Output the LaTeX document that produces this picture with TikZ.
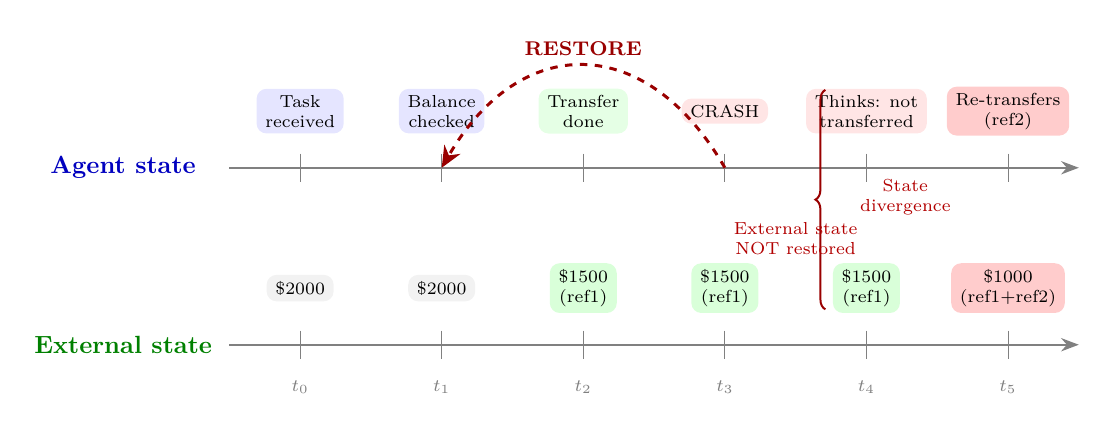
\documentclass[tikz,border=0pt]{standalone}
\usetikzlibrary{arrows.meta, positioning, calc, decorations.pathreplacing}

\begin{document}
\begin{tikzpicture}[
    every node/.style={font=\scriptsize},
    evbox/.style={rectangle, rounded corners=4pt, inner xsep=3.5pt, inner ysep=2.5pt, align=center},
    axis/.style={-{Stealth[length=2.5mm]}, thick, gray},
    tick/.style={gray, thin},
    rowlabel/.style={font=\normalsize\bfseries, anchor=center},
    tlabel/.style={font=\scriptsize, text=gray},
    note/.style={font=\scriptsize, text=red!70!black, align=center}
]
\useasboundingbox (-4.24,-3.67) rectangle (11.37,2.37);

% ============ AXES ============
\node[rowlabel, text=blue!75!black] (agentlbl) at (-2.5,0) {Agent state};
\node[rowlabel, text=green!50!black] (extlbl) at (-2.5,-2.5) {External state};
\coordinate (agentstart) at (-1,0);
\coordinate (agentend) at (11,0);
\coordinate (extstart) at (-1,-2.5);
\coordinate (extend) at (11,-2.5);
\draw[axis] (agentstart) -- (agentend);
\draw[axis] (extstart) -- (extend);

% ============ TICKS ============
\foreach \i in {0,...,5} {
    \coordinate (a\i) at (2*\i,0);
    \coordinate (e\i) at (2*\i,-2.5);
    \draw[tick] ($(a\i)+(0,0.2)$) -- ($(a\i)+(0,-0.2)$);
    \draw[tick] ($(e\i)+(0,0.2)$) -- ($(e\i)+(0,-0.2)$);
    \node[tlabel] (t\i) at (2*\i,-3.1) {$t_\i$};
}

% ============ AGENT EVENTS ============
\node[evbox, fill=blue!10] (task) at (0,0.8) {Task\\received};
\node[evbox, fill=blue!10] (balance) at (2,0.8) {Balance\\checked};
\node[evbox, fill=green!10] (transfer) at (4,0.8) {Transfer\\done};
\node[evbox, fill=red!10] (crash) at (6,0.8) {CRASH};
\node[evbox, fill=red!10] (thinks) at (8,0.8) {Thinks: not\\transferred};
\node[evbox, fill=red!20] (retransfer) at (10,0.8) {Re-transfers\\(ref2)};

% ============ EXTERNAL EVENTS ============
\node[evbox, fill=gray!10] (bal0) at (0,-1.7) {\$2000};
\node[evbox, fill=gray!10] (bal1) at (2,-1.7) {\$2000};
\node[evbox, fill=green!15] (bal2) at (4,-1.7) {\$1500\\(ref1)};
\node[evbox, fill=green!15] (bal3) at (6,-1.7) {\$1500\\(ref1)};
\node[evbox, fill=green!15] (bal4) at (8,-1.7) {\$1500\\(ref1)};
\node[evbox, fill=red!20] (bal5) at (10,-1.7) {\$1000\\(ref1+ref2)};

% ============ RESTORE ARC ============
\draw[-{Stealth[length=3mm, width=2.6mm]}, very thick, dashed, red!60!black]
    (a3) to[out=120, in=60, looseness=1.42]
    node[midway, above, font=\footnotesize\bfseries, text=red!60!black] (restore) {RESTORE} (a1);

% ============ DIVERGENCE ============
\coordinate (bracebot) at (7.42,-2.0);
\coordinate (bracetop) at (7.42,1.1);
\draw[decorate, decoration={brace, amplitude=4pt}, thick, red!60!black] (bracebot) -- (bracetop);
\node[note] (notrestored) at (7.0,-1.0) {External state\\NOT restored};
\node[note] (diverge) at (8.55,-0.42) {State\\divergence};

\end{tikzpicture}
\end{document}
